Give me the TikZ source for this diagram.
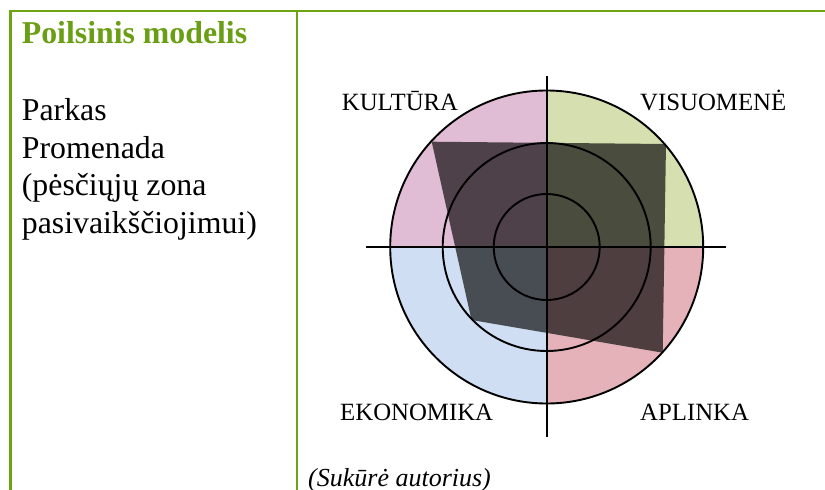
\documentclass[tikz,border=0pt]{standalone}
\usepackage{fontspec}
\setmainfont{Liberation Serif}
\definecolor{tblgreen}{RGB}{110,163,17}
\definecolor{titlegreen}{RGB}{106,158,20}
\definecolor{qkult}{RGB}{224,189,212}
\definecolor{qvis}{RGB}{214,223,176}
\definecolor{qeko}{RGB}{207,222,242}
\definecolor{qapl}{RGB}{229,178,186}
\tikzset{
  border/.style={draw=tblgreen, line width=2.2pt},
  ring/.style={draw=black, line width=1.9pt},
  axisline/.style={draw=black, line width=1.9pt},
  lefttext/.style={anchor=base west, inner sep=0pt, font=\fontsize{31.8}{38}\selectfont},
  quadlabel/.style={anchor=base west, inner sep=0pt, font=\fontsize{24.8}{29}\selectfont},
}
\begin{document}
\begin{tikzpicture}[x=1pt, y=-1pt]
\useasboundingbox (0,0) rectangle (825,490);
% table lines
\draw[border] (10.5,490) -- (10.5,11) -- (825,11);
\draw[border] (296.7,11) -- (296.7,490);
% left column text
\node[lefttext, font=\fontsize{31.8}{38}\selectfont\bfseries, text=titlegreen] (title) at (21.7,43) {Poilsinis modelis};
\node[lefttext] (l1) at (21.7,120) {Parkas};
\node[lefttext] (l2) at (21.7,158) {Promenada};
\node[lefttext] (l3) at (21.7,195.5) {(pėsčiųjų zona};
\node[lefttext] (l4) at (21.7,233.2) {pasivaikščiojimui)};
% diagram
\coordinate (c) at (546.7,247);
\begin{scope}
  \clip (c) circle[radius=156.5];
  \fill[qkult] (380,80) rectangle (c);
  \fill[qvis] (715,80) rectangle (c);
  \fill[qeko] (380,415) rectangle (c);
  \fill[qapl] (715,415) rectangle (c);
\end{scope}
\coordinate (pk) at (431.7,141.7);
\coordinate (pv) at (666,144);
\coordinate (pa) at (662.7,352.7);
\coordinate (pe) at (471.5,320);
\fill[black, fill opacity=0.65] (pk) -- (pv) -- (pa) -- (pe) -- cycle;
\draw[ring] (c) circle[radius=156.5];
\draw[ring] (c) circle[radius=104];
\draw[ring] (c) circle[radius=53];
\coordinate (axT) at (546.7,76);
\coordinate (axB) at (546.7,437);
\coordinate (axL) at (366,247);
\coordinate (axR) at (726,247);
\draw[axisline] (axT) -- (axB);
\draw[axisline] (axL) -- (axR);
\node[quadlabel] (kult) at (341.7,110) {KULTŪRA};
\node[quadlabel] (vis) at (640,110) {VISUOMENĖ};
\node[quadlabel] (eko) at (340,420) {EKONOMIKA};
\node[quadlabel] (apl) at (640,420) {APLINKA};
\node[anchor=base west, inner sep=0pt, font=\fontsize{26}{31}\selectfont\itshape] (src) at (308,486) {(Sukūrė autorius)};
\end{tikzpicture}
\end{document}
